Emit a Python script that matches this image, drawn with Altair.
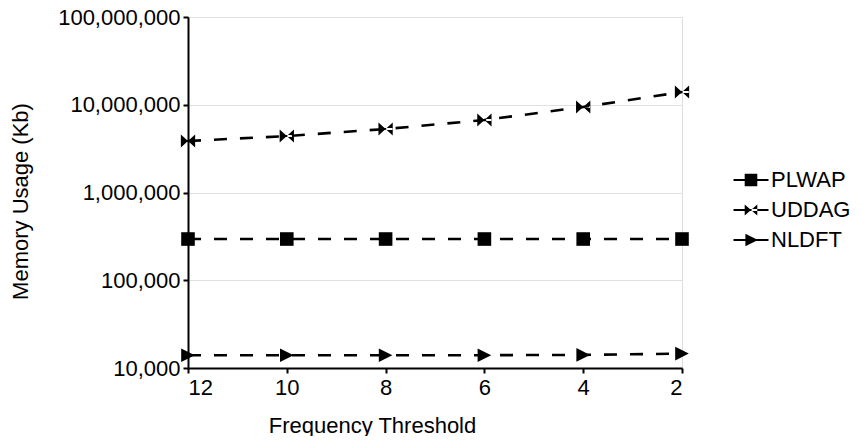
import altair as alt
import pandas as pd

thresholds = [12, 10, 8, 6, 4, 2]
series_names = ["PLWAP", "UDDAG", "NLDFT"]
plwap = [295000, 295000, 295000, 295000, 295000, 295000]
uddag = [3860000, 4400000, 5290000, 6700000, 9430000, 13970000]
nldft = [14000, 14000, 14000, 14000, 14100, 14600]
y_ticks = [10000, 100000, 1000000, 10000000, 100000000]

rows = []
for name, vals in zip(series_names, [plwap, uddag, nldft]):
    for t, v in zip(thresholds, vals):
        rows.append({"threshold": t, "usage": v, "series": name})
df = pd.DataFrame(rows)

FONT = "Liberation Sans"

# marker shapes (chart)
sq = "M-1,-1H1V1H-1Z"
bow = "M-1.05,-0.95L0,0L-1.05,0.95Z M1.05,-0.95L0,0L1.05,0.95Z M-1,-0.15H1V0.15H-1Z"
tri = "M-1,-1L1,0L-1,1Z"
# legend shapes with line stubs
stub = "M-2.5,-0.14H2.5V0.14H-2.5Z "
lsq = stub + "M-0.9,-0.9H0.9V0.9H-0.9Z"
lbow = stub + "M-0.9,-0.8L0,0L-0.9,0.8Z M0.9,-0.8L0,0L0.9,0.8Z"
ltri = stub + "M-0.8,-0.9L1,0L-0.8,0.9Z"

x_enc = alt.X(
    "threshold:Q",
    scale=alt.Scale(domain=[2, 12], reverse=True, nice=False, zero=False),
    axis=alt.Axis(
        values=thresholds, format="d", title="Frequency Threshold",
        grid=False, labelPadding=4, titleX=184, titleY=57,
        titleBaseline="middle", titleAnchor="middle", titleAlign="center",
    ),
)
y_enc = alt.Y(
    "usage:Q",
    scale=alt.Scale(type="log", domain=[10000, 100000000], nice=False),
    axis=alt.Axis(
        values=y_ticks, format=",", title="Memory Usage (Kb)",
        grid=True, labelPadding=3, titleX=-168, titleY=184,
        titleBaseline="middle", titleAngle=-90, titleAlign="center",
    ),
)

lines = alt.Chart(df).mark_line(
    color="black", strokeWidth=2.6, strokeDash=[13, 13]
).encode(x=x_enc, y=y_enc, detail="series:N")

points = alt.Chart(df).mark_point(
    filled=True, color="black", size=185, opacity=1, strokeWidth=0
).encode(
    x=x_enc, y=y_enc,
    shape=alt.Shape("series:N", scale=alt.Scale(domain=series_names, range=[sq, bow, tri]), legend=None),
)

legend_pts = alt.Chart(df).mark_point(
    filled=True, color="black", size=180, opacity=0, strokeWidth=0
).encode(
    x=x_enc, y=y_enc,
    shape=alt.Shape(
        "series:N",
        scale=alt.Scale(domain=series_names, range=[lsq, lbow, ltri]),
        sort=series_names,
        legend=alt.Legend(
            title=None, orient="none", legendX=552, legendY=152,
            symbolSize=196, symbolOpacity=1, symbolFillColor="black",
            symbolStrokeWidth=0, labelOffset=9, labelFontSize=22,
            labelFont=FONT, labelColor="black", rowPadding=8, padding=0,
            labelBaseline="middle",
        ),
    ),
)

chart = (
    alt.layer(lines, legend_pts, points)
    .resolve_scale(shape="independent")
    .properties(
        width=494, height=351,
        autosize=alt.AutoSizeParams(type="none"),
        padding={"left": 180, "top": 9, "right": 172, "bottom": 68},
    )
    .configure_view(stroke="#dddddd", strokeWidth=1)
    .configure_axis(
        labelFont=FONT, titleFont=FONT, labelFontSize=22, titleFontSize=22,
        labelColor="black", titleColor="black", titleFontWeight="normal",
        domainColor="black", domainWidth=2, tickColor="black", tickWidth=2,
        tickSize=5, gridColor="#e0e0e0", gridWidth=1,
    )
)

chart.save("out.html", embed_options={"renderer": "svg", "actions": False})
